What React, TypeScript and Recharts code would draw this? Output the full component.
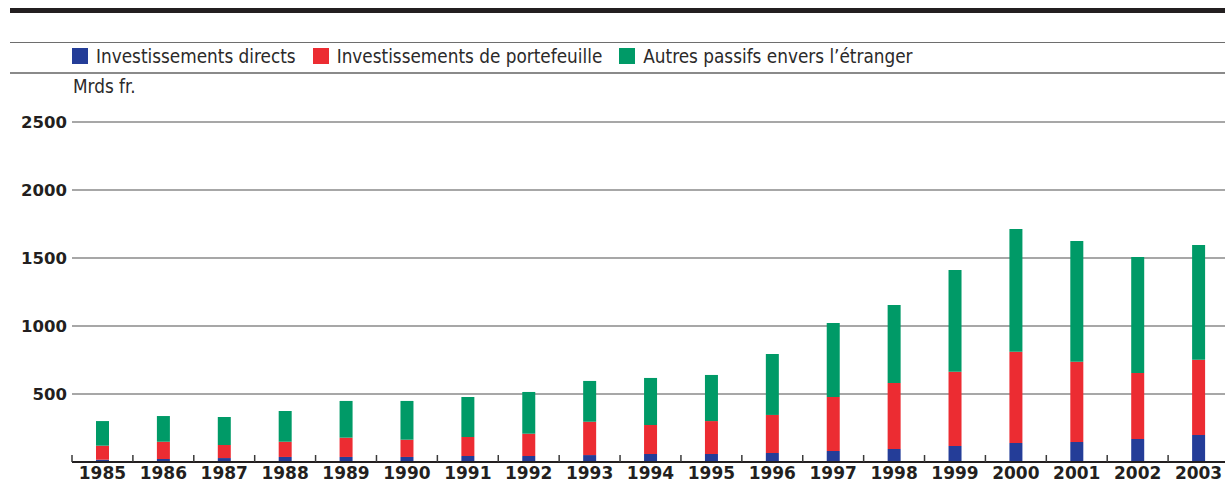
import { BarChart, Bar, XAxis, YAxis, CartesianGrid } from 'recharts';

const years = ['1985', '1986', '1987', '1988', '1989', '1990', '1991', '1992', '1993', '1994', '1995', '1996', '1997', '1998', '1999', '2000', '2001', '2002', '2003'];
const directs = [17, 22, 29, 37, 37, 37, 44, 44, 51, 59, 59, 66, 81, 96, 118, 140, 147, 169, 199];
const portefeuille = [103, 127, 96, 112, 142, 127, 140, 164, 245, 213, 242, 280, 397, 485, 546, 671, 590, 485, 553];
const autres = [181, 189, 206, 226, 270, 285, 294, 307, 300, 346, 339, 448, 544, 573, 748, 902, 888, 853, 844];
const yTicks = [0, 500, 1000, 1500, 2000, 2500];

const seriesNames = ['Investissements directs', 'Investissements de portefeuille', 'Autres passifs envers l\u2019étranger'];
const seriesColors = ['#243d98', '#ec2c32', '#009a67'];

const data = years.map((year, i) => ({
  year,
  directs: directs[i],
  portefeuille: portefeuille[i],
  autres: autres[i],
}));

const CHART_W = 1229;
const CHART_H = 483;
const AXIS_W = 72;
const STEP = (CHART_W - AXIS_W) / years.length;

const textFont = '"DejaVu Sans Condensed", "DejaVu Sans", sans-serif';
const tickFont = '"DejaVu Sans", sans-serif';
const ink = '#231f20';

function YearTick(props: any) {
  const { x, y, payload } = props;
  const bx = x - STEP / 2;
  return (
    <g>
      <line x1={bx} x2={bx} y1={y} y2={y - 7} stroke="#3a3a3a" strokeWidth={1.5} />
      <text x={x} y={y + 17} textAnchor="middle" fontFamily={tickFont} fontWeight="bold" fontSize={17} fill={ink}>
        {payload.value}
      </text>
    </g>
  );
}

export default function App() {
  return (
    <div style={{ position: 'absolute', left: 0, top: 0, width: 1225, height: 483, overflow: 'hidden', background: '#fff' }}>
      <div style={{ position: 'absolute', left: 10, right: 0, top: 8, height: 5, background: ink }} />
      <div style={{ position: 'absolute', left: 10, right: 0, top: 41.5, height: 1.5, background: '#6e6e6e' }} />
      <div style={{ position: 'absolute', left: 10, right: 0, top: 72, height: 1.5, background: '#8a8a8a' }} />

      <div style={{ position: 'absolute', left: 72, top: 44, height: 24, display: 'flex', alignItems: 'center', fontFamily: textFont, fontSize: 18.8, color: '#2b2a2a', whiteSpace: 'nowrap' }}>
        {seriesNames.map((name, i) => (
          <div key={name} style={{ display: 'flex', alignItems: 'center', marginRight: 17 }}>
            <span style={{ display: 'inline-block', width: 16, height: 16, background: seriesColors[i], marginRight: 8 }} />
            <span>{name}</span>
          </div>
        ))}
      </div>

      <div style={{ position: 'absolute', left: 73, top: 76, fontFamily: textFont, fontSize: 18.8, color: '#2b2a2a' }}>Mrds fr.</div>

      <div style={{ position: 'absolute', left: 0, top: 0 }}>
        <BarChart width={CHART_W} height={CHART_H} data={data} margin={{ top: 122, right: 0, bottom: 0, left: 0 }} barSize={13}>
          <CartesianGrid vertical={false} stroke="#8a8a8a" strokeWidth={1.5} />
          <YAxis
            width={AXIS_W}
            domain={[0, 2500]}
            ticks={yTicks}
            tickFormatter={(v: number) => (v === 0 ? '' : String(v))}
            axisLine={false}
            tickLine={false}
            tickSize={0}
            tickMargin={5}
            tick={{ fontFamily: tickFont, fontWeight: 'bold', fontSize: 16.5, fill: ink }}
          />
          <XAxis
            dataKey="year"
            height={21}
            interval={0}
            tickSize={0}
            tickMargin={0}
            tickLine={false}
            axisLine={{ stroke: ink, strokeWidth: 2 }}
            tick={<YearTick />}
          />
          <Bar dataKey="directs" stackId="a" fill={seriesColors[0]} isAnimationActive={false} />
          <Bar dataKey="portefeuille" stackId="a" fill={seriesColors[1]} isAnimationActive={false} />
          <Bar dataKey="autres" stackId="a" fill={seriesColors[2]} isAnimationActive={false} />
        </BarChart>
      </div>
    </div>
  );
}
